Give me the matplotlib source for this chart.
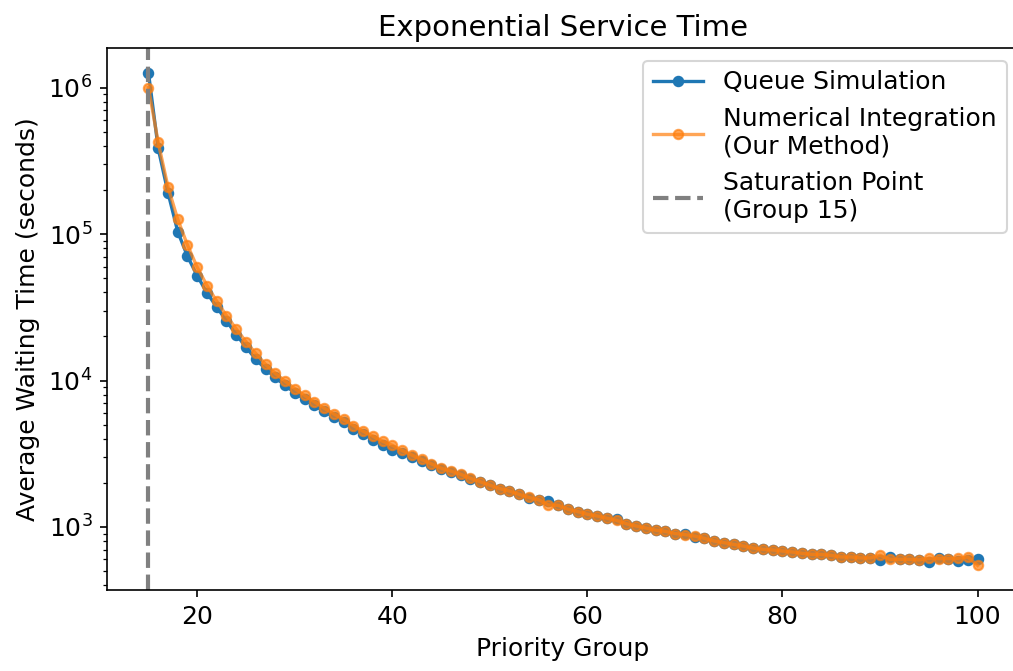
import matplotlib
matplotlib.use("Agg")
import matplotlib.pyplot as plt

groups = list(range(15, 101))

queue_sim = [
    1265000, 384000, 192000, 104000, 70500, 52000, 39600, 31800, 25500, 20600,
    16900, 14000, 12000, 10500, 9250, 8280, 7450, 6760, 6170, 5650,
    5200, 4700, 4340, 3950, 3630, 3370, 3200, 3020, 2820, 2640,
    2480, 2390, 2260, 2140, 2030, 1920, 1830, 1760, 1670, 1585,
    1530, 1515, 1405, 1318, 1274, 1222, 1189, 1151, 1135, 1052,
    1016, 989, 951, 935, 902, 891, 861, 836, 802, 782,
    760, 741, 718, 703, 697, 685, 675, 661, 650, 649,
    640, 624, 627, 615, 615, 596, 627, 601, 601, 596,
    579, 618, 608, 586, 596, 608,
]

numerical = [
    1000000, 422000, 210000, 126000, 84100, 59300, 44500, 34800, 27700, 22500,
    18400, 15300, 12900, 11200, 9890, 8810, 7910, 7160, 6490, 5920,
    5420, 4930, 4510, 4170, 3850, 3610, 3330, 3100, 2890, 2700,
    2520, 2410, 2290, 2150, 2040, 1930, 1830, 1760, 1670, 1590,
    1535, 1413, 1406, 1324, 1274, 1222, 1189, 1148, 1109, 1052,
    1016, 984, 951, 933, 902, 887, 867, 836, 802, 782,
    760, 741, 718, 703, 697, 685, 675, 661, 650, 649,
    640, 624, 624, 615, 615, 641, 601, 601, 601, 596,
    611, 608, 608, 611, 624, 547,
]

saturation_group = 15

DPI = 150
fig = plt.figure(figsize=(1013 / DPI, 671 / DPI), dpi=DPI)
ax = fig.add_axes([107 / 1013, 1 - 590 / 671, 912 / 1013, 542 / 671])

ax.plot(groups, queue_sim, marker='o', markersize=4.5, linewidth=1.6,
        color='#1f77b4', label='Queue Simulation')
ax.plot(groups, numerical, marker='o', markersize=4.5, linewidth=1.6,
        color='#ff7f0e', alpha=0.7, label='Numerical Integration\n(Our Method)')
ax.axvline(saturation_group, color='gray', linestyle='--', linewidth=2,
           label='Saturation Point\n(Group 15)')

ax.set_yscale('log')
ax.set_xlabel('Priority Group', fontsize=12)
ax.set_ylabel('Average Waiting Time (seconds)', fontsize=12)
ax.set_title('Exponential Service Time', fontsize=14)
ax.tick_params(labelsize=12)
ax.legend(loc='upper right', fontsize=12)

fig.savefig('out.png', dpi=DPI)
